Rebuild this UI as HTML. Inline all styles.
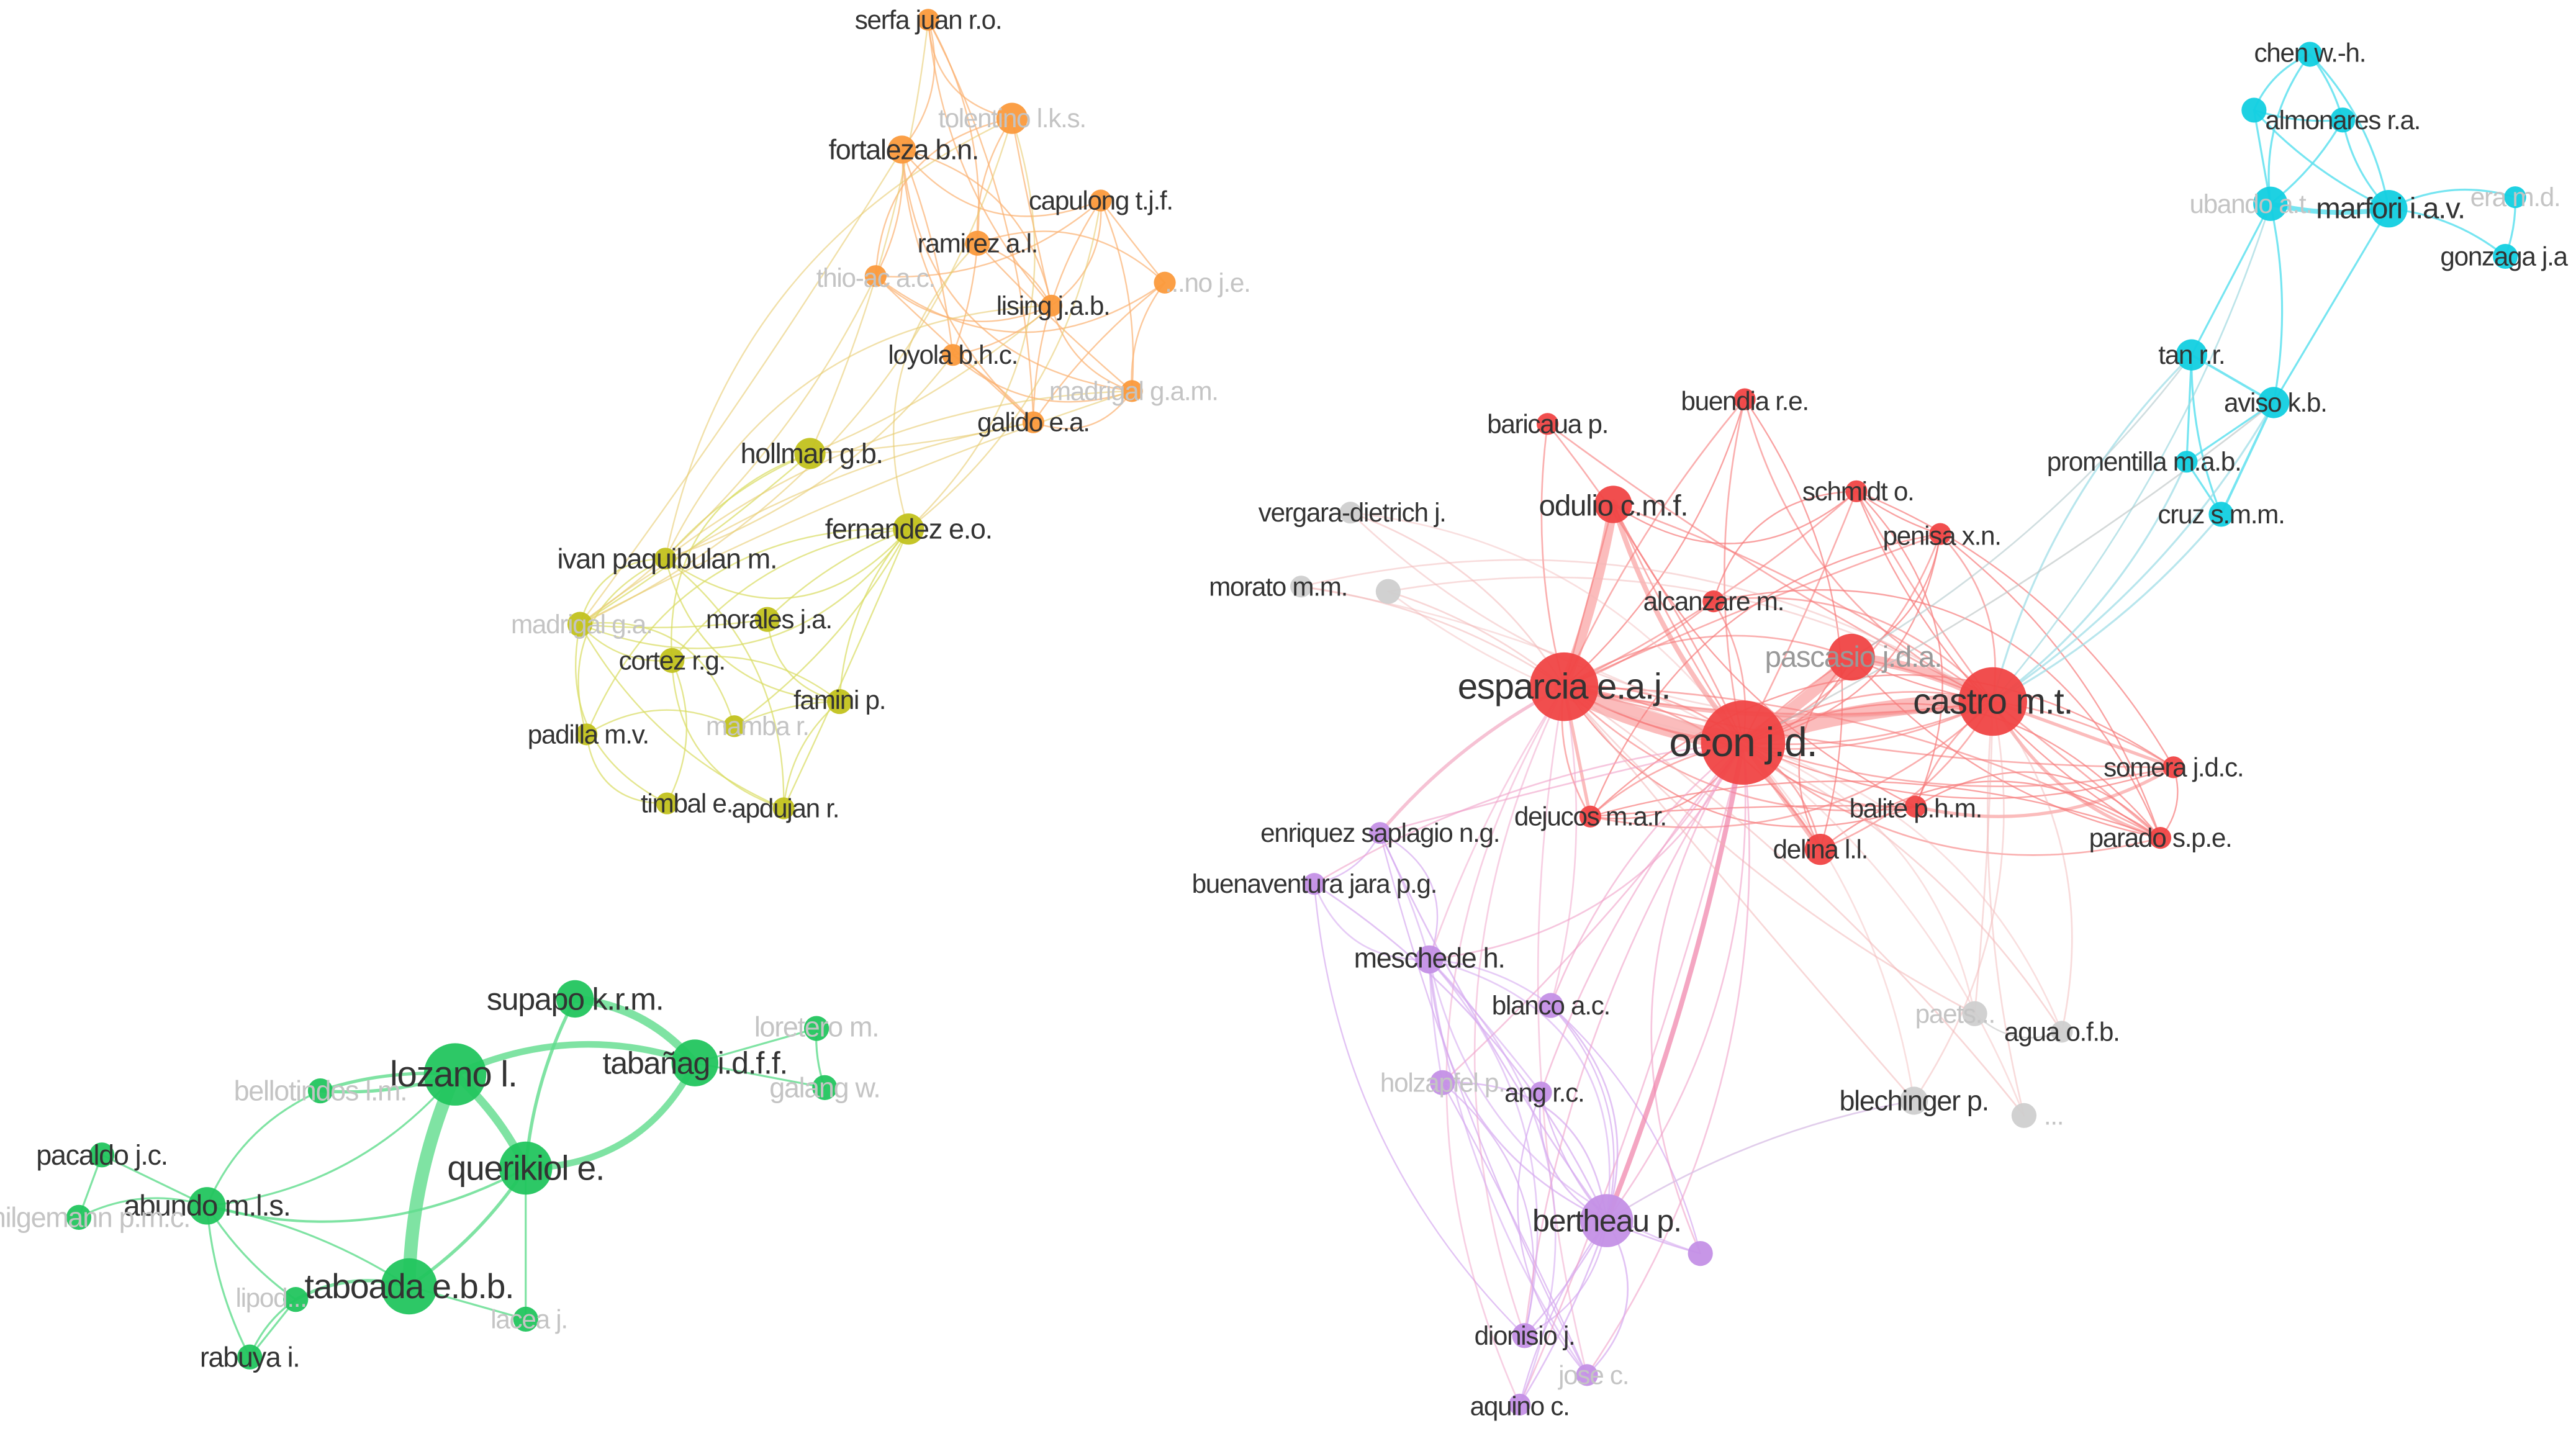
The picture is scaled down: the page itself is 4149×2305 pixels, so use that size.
<!DOCTYPE html>
<html><head><meta charset="utf-8"><style>
html,body{margin:0;padding:0;background:#fff;}
svg{display:block}
text{font-family:"Liberation Sans",sans-serif;fill:#333;text-anchor:middle;dominant-baseline:central;letter-spacing:-0.5px}
.f{fill:#c4c4c4}
</style></head><body>
<svg id="s" width="4149" height="2305" viewBox="0 0 1568 871" xmlns="http://www.w3.org/2000/svg">
<g id="edges" fill="none" stroke-linecap="round"></g>
<g id="nodes"></g>
<g id="labels" style="font-size:16px">
<text x="565" y="12">serfa juan r.o.</text>
<text x="616" y="72" class="f">tolentino l.k.s.</text>
<text x="550" y="91" font-size="17">fortaleza b.n.</text>
<text x="670" y="122">capulong t.j.f.</text>
<text x="595" y="148">ramirez a.l.</text>
<text x="533" y="169" class="f">thio-ac a.c.</text>
<text x="735" y="172" class="f">...no j.e.</text>
<text x="641" y="186">lising j.a.b.</text>
<text x="580" y="216">loyola b.h.c.</text>
<text x="690" y="238" class="f">madrigal g.a.m.</text>
<text x="629" y="257">galido e.a.</text>
<text x="494" y="276" font-size="17">hollman g.b.</text>
<text x="553" y="322" font-size="17">fernandez e.o.</text>
<text x="406" y="340" font-size="17">ivan paquibulan m.</text>
<text x="354" y="380" class="f">madrigal g.a.</text>
<text x="468" y="377">morales j.a.</text>
<text x="409" y="402">cortez r.g.</text>
<text x="511" y="426">famini p.</text>
<text x="358" y="447">padilla m.v.</text>
<text x="461" y="442" class="f">mamba r.</text>
<text x="418" y="489">timbal e.</text>
<text x="478" y="492">apdujan r.</text>

<text x="350" y="608" font-size="19">supapo k.r.m.</text>
<text x="497" y="625" font-size="17" class="f">loretero m.</text>
<text x="276" y="654" font-size="22">lozano l.</text>
<text x="423" y="647" font-size="19">tabañag i.d.f.f.</text>
<text x="195" y="664" font-size="17" class="f">bellotindos l.m.</text>
<text x="502" y="662" font-size="17" class="f">galang w.</text>
<text x="320" y="711" font-size="21">querikiol e.</text>
<text x="62" y="703" font-size="17">pacaldo j.c.</text>
<text x="126" y="734" font-size="18">abundo m.l.s.</text>
<text x="55" y="741" font-size="17" class="f">hilgemann p.m.c.</text>
<text x="249" y="783" font-size="21">taboada e.b.b.</text>
<text x="165" y="790" class="f">lipod...</text>
<text x="322" y="803" class="f">lacea j.</text>
<text x="152" y="826" font-size="17">rabuya i.</text>

<text x="942" y="258">baricaua p.</text>
<text x="1062" y="244">buendia r.e.</text>
<text x="982" y="308" font-size="18">odulio c.m.f.</text>
<text x="1131" y="299">schmidt o.</text>
<text x="1182" y="326">penisa x.n.</text>
<text x="1043" y="366">alcanzare m.</text>
<text x="1128" y="400" font-size="18" style="fill:#999">pascasio j.d.a.</text>
<text x="952" y="418" font-size="22">esparcia e.a.j.</text>
<text x="1213" y="427" font-size="22">castro m.t.</text>
<text x="1061" y="452" font-size="25">ocon j.d.</text>
<text x="1323" y="467">somera j.d.c.</text>
<text x="968" y="497">dejucos m.a.r.</text>
<text x="1166" y="492">balite p.h.m.</text>
<text x="1108" y="517">delina l.l.</text>
<text x="1315" y="510">parado s.p.e.</text>

<text x="1406" y="32">chen w.-h.</text>
<text x="1426" y="73">almonares r.a.</text>
<text x="1370" y="124" class="f">ubando a.t.</text>
<text x="1455" y="127" font-size="18">marfori i.a.v.</text>
<text x="1531" y="120" class="f">era m.d.</text>
<text x="1524" y="156">gonzaga j.a</text>
<text x="1334" y="216">tan r.r.</text>
<text x="1385" y="245">aviso k.b.</text>
<text x="1305" y="281">promentilla m.a.b.</text>
<text x="1352" y="313">cruz s.m.m.</text>

<text x="823" y="312">vergara-dietrich j.</text>
<text x="778" y="357">morato m.m.</text>
<text x="1190" y="617" class="f">paets...</text>
<text x="1255" y="628">agua o.f.b.</text>
<text x="1165" y="670" font-size="17">blechinger p.</text>
<text x="1250" y="679" class="f">...</text>

<text x="840" y="507">enriquez saplagio n.g.</text>
<text x="800" y="538">buenaventura jara p.g.</text>
<text x="870" y="583" font-size="17">meschede h.</text>
<text x="944" y="612">blanco a.c.</text>
<text x="878" y="659" class="f">holzapfel p.</text>
<text x="940" y="665">ang r.c.</text>
<text x="978" y="743" font-size="19">bertheau p.</text>
<text x="928" y="813">dionisio j.</text>
<text x="970" y="837" class="f">jose c.</text>
<text x="925" y="856">aquino c.</text>
</g>
</svg>
<script>
var C={o:"#fb9a3c",y:"#c2c21e",g:"#22c55e",r:"#f04444",c:"#12cfe0",p:"#c490e6",x:"#cfcfcf"};
var EC={o:"#fbb070",y:"#d8dc60",g:"#5fdc8c",r:"#f77a7a",c:"#5ee0ee",p:"#d6aaf0",x:"#cccccc"};
var N={
o:[[565,12,7],[616,72,10],[549,91,9],[670,122,7],[595,148,8],[533,168,7],[709,172,7],[640,186,7],[580,216,7],[689,238,7],[629,257,7]],
y:[[493,276,10],[553,322,10],[405,340,7],[353,380,8],[467,377,8],[409,402,8],[511,427,8],[357,447,7],[447,442,7],[406,489,7],[477,492,7]],
g:[[350,608,12],[277,654,20],[423,647,15],[320,711,17],[195,664,8],[497,626,8],[502,662,8],[62,703,8],[126,734,12],[48,741,8],[249,783,18],[180,791,8],[320,803,8],[152,826,8]],
r:[[942,258,7],[1062,243,7],[982,307,12],[1130,299,7],[1181,325,7],[1043,366,7],[1127,400,15],[952,418,22],[1213,427,22],[1061,452,27],[1323,467,7],[968,497,7],[1166,491,7],[1108,517,10],[1315,510,7]],
c:[[1406,33,8],[1372,67,8],[1426,73,8],[1382,124,11],[1454,127,12],[1531,120,7],[1525,156,8],[1334,216,10],[1384,245,10],[1331,281,7],[1352,313,8]],
x:[[822,312,7],[792,357,7],[845,360,8],[1202,617,8],[1255,628,7],[1165,670,9],[1232,679,8]],
p:[[840,507,7],[800,538,7],[870,584,9],[944,612,8],[878,659,8],[938,665,7],[978,743,17],[1035,763,8],[928,813,8],[966,837,7],[925,855,7]]};
var seed=7;function rnd(){seed=(seed*16807)%2147483647;return seed/2147483647;}
var E=document.getElementById("edges"),ns="http://www.w3.org/2000/svg";
function edge(a,b,col,w,op,bend){
 var dx=b[0]-a[0],dy=b[1]-a[1];var k=bend===undefined?0.18:bend;
 var cx=(a[0]+b[0])/2-dy*k,cy=(a[1]+b[1])/2+dx*k;
 var p=document.createElementNS(ns,"path");
 p.setAttribute("d","M"+a[0]+" "+a[1]+"Q"+cx+" "+cy+" "+b[0]+" "+b[1]);
 p.setAttribute("stroke",col);p.setAttribute("stroke-width",w);p.setAttribute("stroke-opacity",op);
 E.appendChild(p);}
function rb(){return (rnd()-0.5)*0.9;}
var prob={o:0.6,y:0.55,g:0.0,r:0.3,c:0.0,x:0.2,p:0.25};
for(var k in N){var L=N[k];for(var i=0;i<L.length;i++)for(var j=i+1;j<L.length;j++){if(rnd()<prob[k])edge(L[i],L[j],EC[k],0.9,0.7,rb());}}
for(var i=0;i<11;i++){for(var j=0;j<4;j++){if(rnd()<0.5)edge(N.y[j],N.o[i],"#e8cc70",0.9,0.6,rb()*0.7);}}
var G=N.g;function ge(a,b,w,bd){edge(G[a],G[b],EC.g,w,0.8,bd);}
ge(1,10,8,0.1);ge(1,3,5,-0.1);ge(3,2,4,0.3);ge(0,2,5,-0.2);ge(1,2,4,-0.2);ge(0,3,2,0.1);ge(1,4,2,0.1);ge(1,4,2,-0.1);
ge(4,8,1.2,0.2);ge(8,1,1.2,0.2);ge(8,3,1.5,0.2);ge(8,10,1.2,-0.1);ge(8,11,1.2,0.1);ge(8,13,1.2,0.1);ge(7,8,1.2,0);ge(7,9,1.2,0);ge(9,8,1.2,-0.2);
ge(10,11,2,0.2);ge(10,3,2,0.1);ge(3,12,1.2,0);ge(11,13,1.2,0);ge(11,13,1.2,0.15);ge(5,6,1.2,0.1);ge(5,2,1.2,0);ge(6,2,1.2,0);ge(10,12,1.2,0);
var Cy=N.c;function ce(a,b,w,bd){edge(Cy[a],Cy[b],EC.c,w,0.85,bd);}
ce(0,1,1.2,0.2);ce(0,2,1.2,-0.1);ce(0,3,1.2,0.2);ce(0,4,1.2,-0.15);ce(1,2,1.2,0.1);ce(1,3,1.2,0);ce(1,4,1.2,0.1);ce(2,3,1.2,-0.1);ce(2,4,1.2,0.15);
ce(3,4,3,0.1);ce(4,5,1.2,-0.2);ce(4,6,1.2,-0.15);ce(5,6,1.2,-0.1);ce(3,7,1.2,0);ce(3,8,1.2,-0.1);ce(4,8,1.2,0);ce(7,8,1.5,0);ce(7,9,1.2,0);ce(8,9,1.2,0);ce(8,10,1.5,0);ce(7,10,1.2,0.1);ce(9,10,1.2,0);
var R=N.r;function re(a,b,w,bd){edge(R[a],R[b],EC.r,w,0.5,bd);}
re(7,9,12,0.08);re(9,8,10,-0.08);re(9,6,7,0.05);re(7,2,6,0.05);re(6,8,6,-0.1);re(7,8,2,0.1);re(9,13,3,0);re(9,2,3,-0.1);re(7,11,2,0);re(8,14,2,0.2);re(8,10,2,0);re(12,10,2,0.2);
for(var i=0;i<R.length;i++){edge(R[9],R[i],EC.r,1,0.6,rb()*0.6);edge(R[8],R[i],EC.r,1,0.6,rb()*0.6);edge(R[7],R[i],EC.r,1,0.6,rb()*0.6);}
var P=N.p;
for(var i=0;i<P.length;i++){edge(R[9],P[i],"#f0a0c8",1,0.6,rb()*0.6);if(rnd()<0.5)edge(R[7],P[i],"#f0a0c8",1,0.5,rb()*0.6);}
edge(R[9],P[6],"#f080a8",3,0.7,-0.05);edge(R[7],P[0],"#f09ab8",2,0.6,0.1);
for(var i=0;i<P.length;i++){edge(P[6],P[i],EC.p,1,0.7,rb());edge(P[2],P[i],EC.p,1,0.6,rb());}
var X=N.x;
for(var i=0;i<X.length;i++){edge(R[7],X[i],"#f2b0b0",1,0.5,rb()*0.6);edge(R[8],X[i],"#f2b8b8",1,0.5,rb()*0.6);edge(R[9],X[i],"#f2b8b8",1,0.45,rb()*0.6);}
edge(X[5],P[6],"#d9c0e6",1,0.8,0.1);
for(var i=7;i<11;i++){edge(R[8],Cy[i],"#9adbe6",1.2,0.7,rb()*0.6);}
edge(R[8],Cy[3],"#a0d8e0",1,0.7,0.1);edge(R[6],Cy[7],"#b0c8cc",1,0.6,0.1);edge(R[9],Cy[8],"#b8c0c0",1,0.6,0.05);
var NG=document.getElementById("nodes");
for(var k in N){N[k].forEach(function(n){var c=document.createElementNS(ns,"circle");c.setAttribute("cx",n[0]);c.setAttribute("cy",n[1]);c.setAttribute("r",n[2]*0.95);c.setAttribute("fill",C[k]);c.setAttribute("fill-opacity","0.95");NG.appendChild(c);});}
</script>
</body></html>
